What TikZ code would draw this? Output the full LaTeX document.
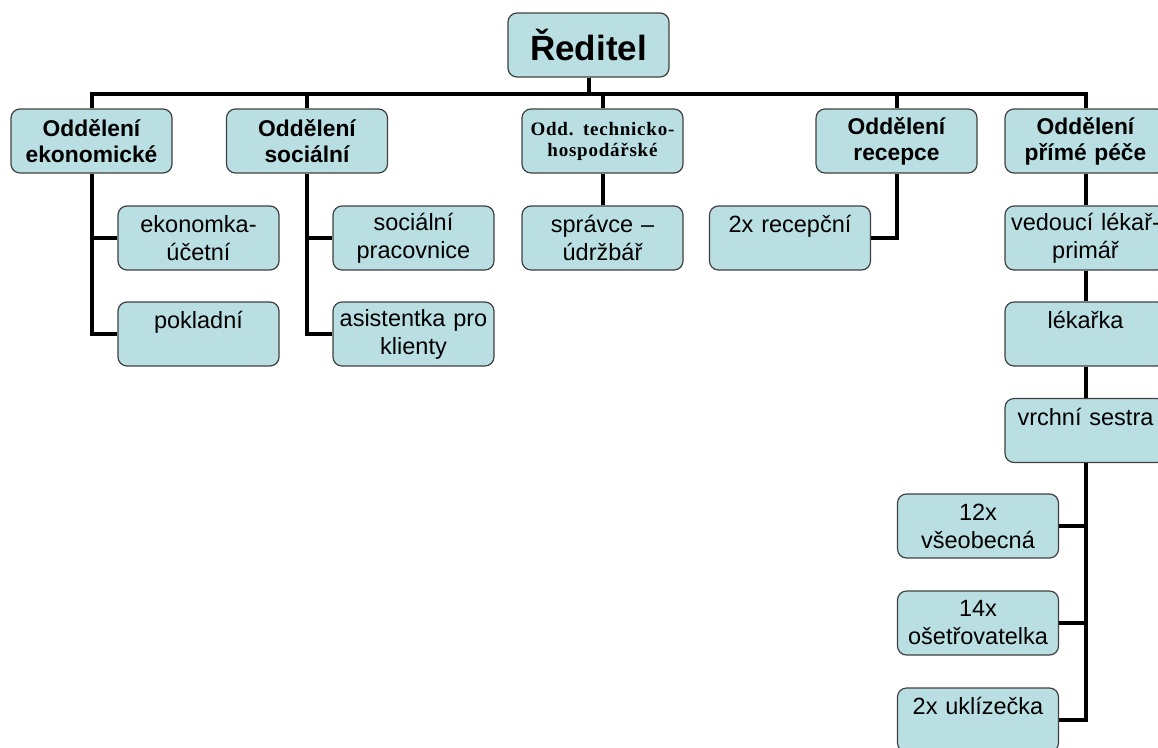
\documentclass[tikz,border=0pt]{standalone}
\usepackage{fontspec}
\setmainfont{Liberation Sans}
\newfontfamily\techfont{Liberation Serif}[LetterSpace=4]

\definecolor{boxblue}{RGB}{186,223,227}
\definecolor{boxline}{RGB}{64,64,64}

\tikzset{
  box/.style={draw=boxline, fill=boxblue, line width=1.2pt, rounded corners=9pt,
    minimum width=161pt, minimum height=64pt, text width=159pt, align=center, inner sep=0pt},
  boss/.style={box, font=\bfseries\fontsize{35}{40}\selectfont},
  dept/.style={box, font=\bfseries\fontsize{22.8}{26}\selectfont},
  techdept/.style={box, font=\techfont\bfseries\fontsize{19}{21}\selectfont},
  staff/.style={box, font=\fontsize{23.5}{28}\selectfont},
  conn/.style={line width=4pt, line join=miter},
}

\begin{document}
\begin{tikzpicture}[x=1pt,y=-1pt]

  \clip (0,0) rectangle (1158,747);

  % Vedeni
  \node[boss] (red) at (588.5,45) {Ředitel};
  \coordinate (bus) at (0,94);

  % Oddeleni
  \node[dept]     (ekon)  at (91.5,141)  {Oddělení\\ekonomické};
  \node[dept]     (soc)   at (307,141)   {Oddělení\\sociální};
  \node[techdept] (tech)  at (602.5,141) {Odd. technicko-\\hospodářské};
  \node[dept]     (rec)   at (896.5,141) {Oddělení\\recepce};
  \node[dept]     (prime) at (1085.5,141) {Oddělení\\přímé péče};

  % Zamestnanci
  \node[staff] (ekonom)   at (198.5,238) {ekonomka-\\účetní};
  \node[staff] (pokl)     at (198.5,334) {pokladní\\\mbox{}};
  \node[staff] (socprac)  at (413.5,238) {sociální\\pracovnice};
  \node[staff] (asist)    at (413.5,334) {asistentka pro\\klienty};
  \node[staff] (spravce)  at (602.5,238) {správce –\\údržbář};
  \node[staff] (recep)    at (790,238)   {2x recepční\\\mbox{}};
  \node[staff] (vedouci)  at (1085.5,238) {vedoucí lékař-\\primář};
  \node[staff] (lekarka)  at (1085.5,334) {lékařka\\\mbox{}};
  \node[staff] (vrchni)   at (1085.5,430.5) {vrchní sestra\\\mbox{}};
  \node[staff] (vseob)    at (978,526)   {12x\\všeobecná};
  \node[staff] (oset)     at (978,623)   {14x\\ošetřovatelka};
  \node[staff] (uklid)    at (978,720)   {2x uklízečka\\\mbox{}};

  % Sbernice
  \draw[conn] (red.south) -- (red.south |- bus);
  \draw[conn] (ekon.north) |- (bus -| prime.north) -- (prime.north);
  \foreach \n in {soc,tech,rec}
    \draw[conn] (\n.north) -- (\n.north |- bus);

  % Vetve
  \draw[conn] (ekon.south) |- (pokl.west);
  \draw[conn] (ekonom.west) -- (ekonom.west -| ekon.south);
  \draw[conn] (soc.south) |- (asist.west);
  \draw[conn] (socprac.west) -- (socprac.west -| soc.south);
  \draw[conn] (tech.south) -- (spravce.north);
  \draw[conn] (rec.south) |- (recep.east);
  \draw[conn] (prime.south) -- (vedouci.north);
  \draw[conn] (vedouci.south) -- (lekarka.north);
  \draw[conn] (lekarka.south) -- (vrchni.north);
  \draw[conn] (vrchni.south) |- (uklid.east);
  \draw[conn] (vseob.east) -- (vseob.east -| vrchni.south);
  \draw[conn] (oset.east) -- (oset.east -| vrchni.south);

\end{tikzpicture}
\end{document}
